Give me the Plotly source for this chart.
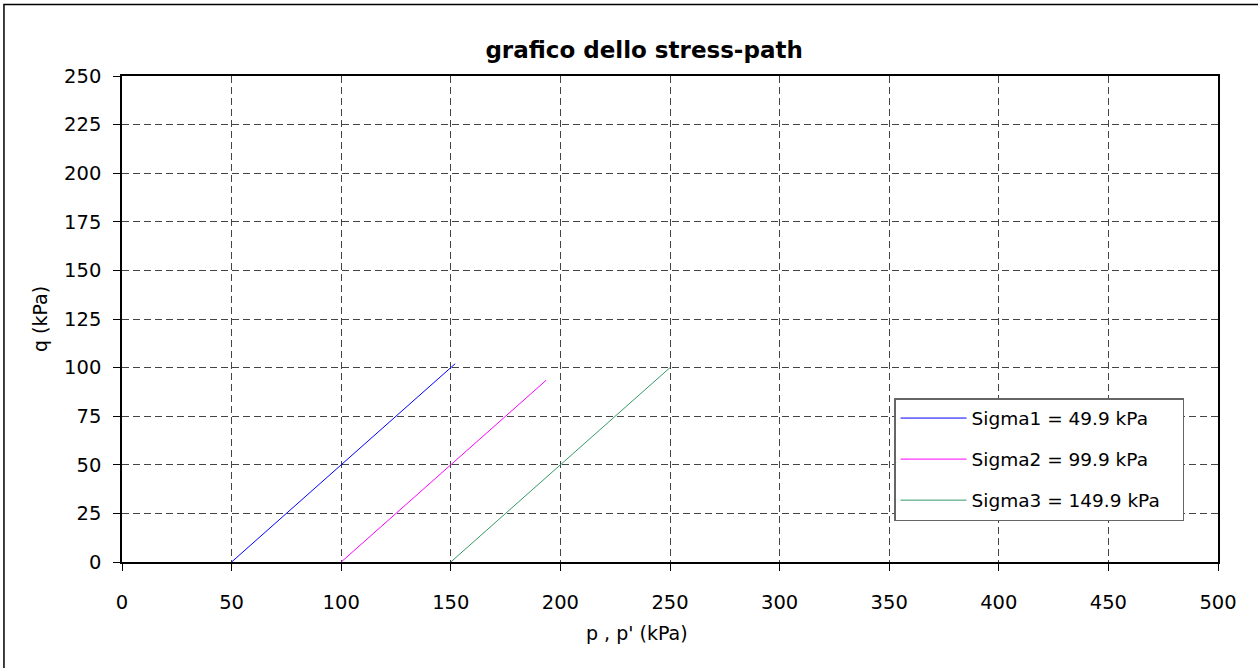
import plotly.graph_objects as go

# stress paths (p, q) in kPa
names = ["Sigma1 = 49.9 kPa", "Sigma2 = 99.9 kPa", "Sigma3 = 149.9 kPa"]
p_values = [
    [50, 75, 100, 125, 152],
    [100, 125, 150, 175, 193.5],
    [150, 175, 200, 225, 250],
]
q_values = [
    [0, 25, 50, 75, 102],
    [0, 25, 50, 75, 93.5],
    [0, 25, 50, 75, 100],
]
colors = ["#0000FF", "#FF00FF", "#339966"]

x_ticks = list(range(0, 501, 50))
y_ticks = list(range(0, 251, 25))

font_family = "Comic Sans MS, DejaVu Sans, sans-serif"

fig = go.Figure()
for name, p, q, c in zip(names, p_values, q_values, colors):
    fig.add_trace(go.Scatter(
        x=p, y=q, name=name + "&nbsp;&nbsp;&nbsp;", mode="lines",
        line=dict(color=c, width=1),
        legendgroup=name,
    ))

axis_common = dict(
    showline=True, linecolor="black", linewidth=1.5, mirror=True,
    ticks="outside", ticklen=7, tickcolor="black",
    showgrid=True, gridcolor="#444444", gridwidth=1, griddash="7px,4px",
    zeroline=False,
    tickfont=dict(size=19.5, color="black", family=font_family),
)

fig.update_xaxes(range=[0, 500], tickvals=x_ticks, ticklabelstandoff=15, **axis_common)
fig.update_yaxes(range=[0, 250], tickvals=y_ticks, ticklabelstandoff=8, **axis_common)

fig.update_layout(
    width=1258, height=668,
    margin=dict(l=122, r=40, t=76, b=106),
    paper_bgcolor="white", plot_bgcolor="white",
    font=dict(family=font_family, color="black"),
    title=dict(
        text="<b>grafico dello stress-path</b>",
        x=0.512, xref="container", xanchor="center",
        y=0.925, yref="container", yanchor="middle",
        font=dict(size=23, color="black", family=font_family),
    ),
    legend=dict(
        x=0.7044, y=0.3374, xanchor="left", yanchor="top",
        bgcolor="white", bordercolor="#666666", borderwidth=1.5,
        font=dict(size=18.5, color="black", family=font_family),
        tracegroupgap=14, itemwidth=66,
    ),
    showlegend=True,
    annotations=[
        dict(text="p , p' (kPa)", xref="paper", yref="paper", x=0.47, y=-0.146,
             xanchor="center", yanchor="middle", showarrow=False,
             font=dict(size=19, color="black", family=font_family)),
        dict(text="q (kPa)", xref="paper", yref="paper", x=-0.0748, y=0.5,
             xanchor="center", yanchor="middle", showarrow=False, textangle=-90,
             font=dict(size=19, color="black", family=font_family)),
    ],
    shapes=[dict(
        type="rect", xref="paper", yref="paper",
        x0=-0.1077, x1=1.05, y0=-0.25, y1=1.1471,
        line=dict(color="black", width=1.5), fillcolor="rgba(0,0,0,0)",
        layer="below",
    )],
)

fig.write_html("out.html", config={"displayModeBar": False},
               post_script="document.body.style.margin='0';")
